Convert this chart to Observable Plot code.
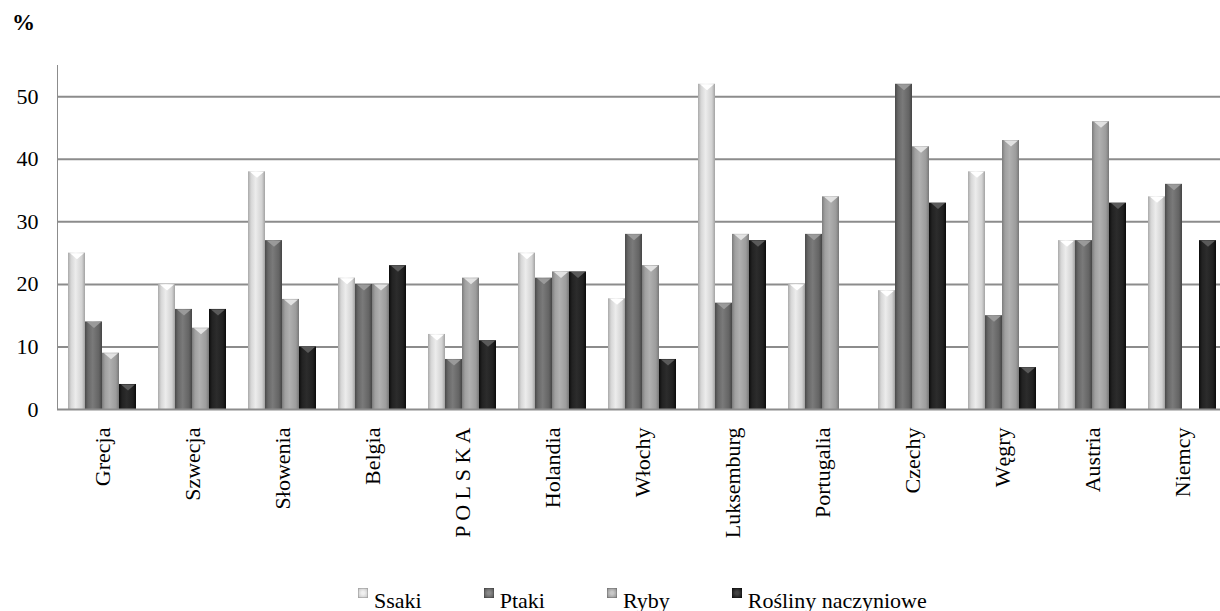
<!DOCTYPE html>
<html>
<head>
<meta charset="utf-8">
<script src="https://cdn.jsdelivr.net/npm/d3@7"></script>
<script src="https://cdn.jsdelivr.net/npm/@observablehq/plot@0.6"></script>
<style>
  html, body { margin: 0; padding: 0; background: #fff; overflow: hidden; }
  #wrap { position: relative; width: 1220px; height: 611px; font-family: "Liberation Serif", "Times New Roman", serif; }
  #pct { position: absolute; left: 12px; top: 11px; font-size: 23px; line-height: 23px; font-weight: bold; }
  #chart { position: absolute; left: 0; top: 0; }
  #chart svg { overflow: hidden; }
  #chart svg text { fill: #000; font-family: "Liberation Serif", "Times New Roman", serif; font-size: 22px; }
  #legend { position: absolute; left: 358px; top: 590px; display: flex; gap: 62px; font-size: 22px; line-height: 22px; }
  .item { display: flex; align-items: flex-start; }
  .sw { width: 10px; height: 10px; margin-top: -2px; margin-right: 6px; box-shadow: inset 0 0 0 1px rgba(0,0,0,0.15); }
</style>
</head>
<body>
<div id="wrap">
  <svg width="0" height="0" style="position:absolute">
    <defs>
      <linearGradient id="gSsaki" x1="0" x2="1" y1="0" y2="0">
        <stop offset="0" stop-color="#a9a9a9"/>
        <stop offset="0.18" stop-color="#d6d6d6"/>
        <stop offset="0.45" stop-color="#ececec"/>
        <stop offset="0.82" stop-color="#d2d2d2"/>
        <stop offset="1" stop-color="#a2a2a2"/>
      </linearGradient>
      <linearGradient id="gPtaki" x1="0" x2="1" y1="0" y2="0">
        <stop offset="0" stop-color="#4a4a4a"/>
        <stop offset="0.18" stop-color="#686868"/>
        <stop offset="0.45" stop-color="#7a7a7a"/>
        <stop offset="0.82" stop-color="#646464"/>
        <stop offset="1" stop-color="#444444"/>
      </linearGradient>
      <linearGradient id="gRyby" x1="0" x2="1" y1="0" y2="0">
        <stop offset="0" stop-color="#7c7c7c"/>
        <stop offset="0.18" stop-color="#a0a0a0"/>
        <stop offset="0.45" stop-color="#b0b0b0"/>
        <stop offset="0.82" stop-color="#9c9c9c"/>
        <stop offset="1" stop-color="#787878"/>
      </linearGradient>
      <linearGradient id="gRosliny" x1="0" x2="1" y1="0" y2="0">
        <stop offset="0" stop-color="#0c0c0c"/>
        <stop offset="0.18" stop-color="#222222"/>
        <stop offset="0.45" stop-color="#2c2c2c"/>
        <stop offset="0.82" stop-color="#202020"/>
        <stop offset="1" stop-color="#0a0a0a"/>
      </linearGradient>
    </defs>
  </svg>
  <div id="pct">%</div>
  <div id="chart"></div>
  <div id="legend"></div>
</div>
<script>
// ---- data ----
const countries = ["Grecja", "Szwecja", "Słowenia", "Belgia", "P O L S K A", "Holandia", "Włochy", "Luksemburg", "Portugalia", "Czechy", "Węgry", "Austria", "Niemcy"];
const seriesNames = ["Ssaki", "Ptaki", "Ryby", "Rośliny naczyniowe"];
const ssaki   = [25, 20, 38, 21, 12, 25, 17.7, 52, 20, 19, 38, 27, 34];
const ptaki   = [14, 16, 27, 20, 8, 21, 28, 17, 28, 52, 15, 27, 36];
const ryby    = [9, 13, 17.6, 20, 21, 22, 23, 28, 34, 42, 43, 46, null];
const rosliny = [4, 16, 10, 23, 11, 22, 8, 27, null, 33, 6.7, 33, 27];
const yTicks = [0, 10, 20, 30, 40, 50];

// ---- styling ----
const barFills = ["url(#gSsaki)", "url(#gPtaki)", "url(#gRyby)", "url(#gRosliny)"];
const notchFills = ["#ffffff", "#9a9a9a", "#e2e2e2", "#5a5a5a"];
const swatchCss = [
  "radial-gradient(circle,#f0f0f0 20%,#c4c4c4 90%)",
  "radial-gradient(circle,#8a8a8a 20%,#555555 90%)",
  "radial-gradient(circle,#c8c8c8 20%,#8e8e8e 90%)",
  "radial-gradient(circle,#444444 20%,#111111 90%)"
];

const seriesValues = [ssaki, ptaki, ryby, rosliny];
const rows = countries.flatMap((c, i) =>
  seriesNames.map((s, j) => ({country: c, series: s, value: seriesValues[j][i]}))
);

const notch = {
  draw(context) {
    context.moveTo(-7, 0);
    context.lineTo(7, 0);
    context.lineTo(0, 6);
    context.closePath();
  }
};

const marks = [
  Plot.ruleY(yTicks.slice(1), {stroke: "#8c8c8c", strokeWidth: 2})
];
seriesNames.forEach((s, j) => {
  const d = rows.filter(r => r.series === s && r.value != null);
  marks.push(Plot.barY(d, {fx: "country", x: "series", y: "value", fill: barFills[j]}));
});
seriesNames.forEach((s, j) => {
  const d = rows.filter(r => r.series === s && r.value != null);
  marks.push(Plot.dot(d, {fx: "country", x: "series", y: "value", symbol: notch, r: 5, fill: notchFills[j], stroke: "none"}));
});
marks.push(Plot.ruleY([0], {stroke: "#8c8c8c", strokeWidth: 2}));

const chart = Plot.plot({
  width: 1220,
  height: 575,
  marginLeft: 51,
  marginRight: -13,
  marginTop: 65,
  marginBottom: 166,
  style: {color: "#8c8c8c", background: "transparent", fontFamily: "Liberation Serif", fontSize: "22px"},
  fx: {domain: countries, padding: 0, label: null, axis: "bottom", tickRotate: -90, tickSize: 0, tickPadding: 18},
  x: {domain: seriesNames, axis: null, paddingInner: 0, paddingOuter: 0.635},
  y: {domain: [0, 55], ticks: yTicks, tickSize: 0, tickPadding: 19, label: null, line: true},
  marks
});
document.getElementById("chart").appendChild(chart);

// legend
const leg = document.getElementById("legend");
seriesNames.forEach((s, j) => {
  const it = document.createElement("div");
  it.className = "item";
  const sw = document.createElement("div");
  sw.className = "sw";
  sw.style.background = swatchCss[j];
  const t = document.createElement("span");
  t.textContent = s;
  it.appendChild(sw);
  it.appendChild(t);
  leg.appendChild(it);
});
</script>
</body>
</html>
